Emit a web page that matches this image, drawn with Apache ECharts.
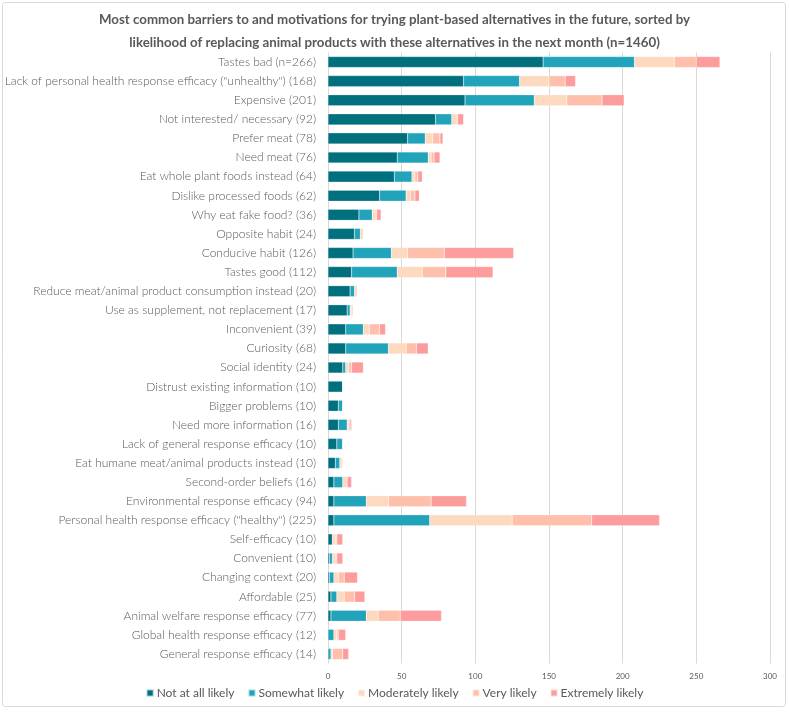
<!DOCTYPE html>
<html><head><meta charset="utf-8">
<script src="https://cdn.jsdelivr.net/npm/echarts@6/dist/echarts.min.js"></script>
<style>html,body{margin:0;padding:0;background:#fff}#c{width:789px;height:712px}</style>
</head><body><div id="c"></div>
<script>
const categories = [
 'Tastes bad (n=266)',
 'Lack of personal health response efficacy ("unhealthy") (168)',
 'Expensive (201)',
 'Not interested/ necessary (92)',
 'Prefer meat (78)',
 'Need meat (76)',
 'Eat whole plant foods instead (64)',
 'Dislike processed foods (62)',
 'Why eat fake food? (36)',
 'Opposite habit (24)',
 'Conducive habit (126)',
 'Tastes good (112)',
 'Reduce meat/animal product consumption instead (20)',
 'Use as supplement, not replacement (17)',
 'Inconvenient (39)',
 'Curiosity (68)',
 'Social identity (24)',
 'Distrust existing information (10)',
 'Bigger problems (10)',
 'Need more information (16)',
 'Lack of general response efficacy (10)',
 'Eat humane meat/animal products instead (10)',
 'Second-order beliefs (16)',
 'Environmental response efficacy (94)',
 'Personal health response efficacy ("healthy") (225)',
 'Self-efficacy (10)',
 'Convenient (10)',
 'Changing context (20)',
 'Affordable (25)',
 'Animal welfare response efficacy (77)',
 'Global health response efficacy (12)',
 'General response efficacy (14)'
];
const notAtAll   = [146,92,93,73,54,47,45,35,21,18,17,16,15,13,12,12,10,10,7,7,6,5,4,4,4,3,1,1,2,2,0,0];
const somewhat   = [62,38,47,11,12,21,12,18,9,4,26,31,3,2,12,29,2,0,3,6,4,3,6,22,65,0,2,3,4,24,4,2];
const moderately = [27,20,22,3,5,2,2,3,2,2,11,17,2,1,4,12,2,0,0,1,0,1,3,15,56,2,2,3,5,8,2,1];
const very       = [15,11,24,1,5,2,2,3,1,0,25,16,0,1,7,7,2,0,0,1,0,1,0,29,54,1,1,4,7,15,1,7];
const extremely  = [16,7,15,4,2,4,3,3,3,0,47,32,0,0,4,8,8,0,0,1,0,0,3,24,46,4,4,9,7,28,5,4];
const seriesNames = ['Not at all likely','Somewhat likely','Moderately likely','Very likely','Extremely likely'];
const colors = ['#00707F','#21A3BA','#FDD9BF','#FEC0AB','#FD9C9D'];
const xTicks = [0,50,100,150,200,250,300];

const values = [notAtAll, somewhat, moderately, very, extremely];
const chart = echarts.init(document.getElementById('c'));
chart.setOption({
  animation:false,
  textStyle:{fontFamily:'Lato'},
  title:{
    text:'Most common barriers to and motivations for trying plant-based alternatives in the future, sorted by\nlikelihood of replacing animal products with these alternatives in the next month (n=1460)',
    left:'center', top:3,
    textStyle:{fontFamily:'Lato',fontSize:13.3,fontWeight:'bold',color:'#595959',lineHeight:23}
  },
  graphic:[{type:'rect',shape:{x:2.5,y:2.5,width:783,height:704,r:3},style:{fill:'none',stroke:'#D9D9D9',lineWidth:1},silent:true}],
  legend:{
    bottom:8, left:'center', itemWidth:7, itemHeight:7, itemGap:13,
    icon:'rect',
    textStyle:{fontFamily:'Lato',fontSize:12,color:'#595959',padding:[0,0,0,-2]},
    data:seriesNames
  },
  grid:{left:328,right:19,top:52.5,bottom:48.5},
  xAxis:{
    type:'value', min:xTicks[0], max:xTicks[xTicks.length-1], interval:50,
    axisLine:{show:false}, axisTick:{show:false},
    axisLabel:{fontSize:8,color:'#595959',margin:9},
    splitLine:{lineStyle:{color:'#D9D9D9',width:1}}
  },
  yAxis:{
    type:'category', data:categories, inverse:true,
    axisLine:{show:false}, axisTick:{show:false},
    axisLabel:{fontSize:12,color:'#595959',margin:12,fontFamily:'Lato',fontWeight:300}
  },
  series: seriesNames.map((n,i)=>({
    name:n, type:'bar', stack:'s', data:values[i], barWidth:11,
    itemStyle:{color:colors[i],borderColor:'rgba(255,255,255,0.6)',borderWidth:0.4}
  }))
});
</script></body></html>
